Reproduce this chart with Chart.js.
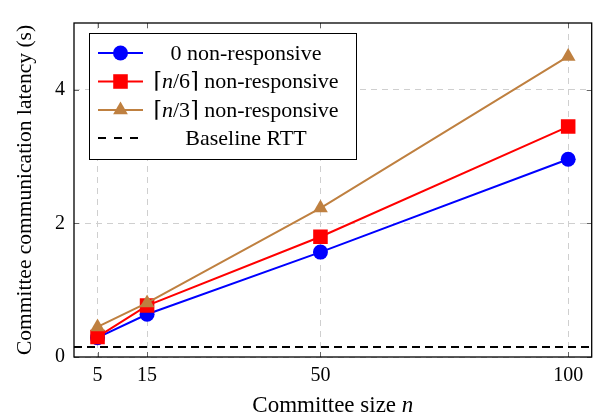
<!DOCTYPE html>
<html>
<head>
<meta charset="utf-8">
<script src="https://cdn.jsdelivr.net/npm/chart.js@4/dist/chart.umd.min.js"></script>
<style>
  html, body { margin: 0; padding: 0; background: #fff; }
  #chart { display: block; }
</style>
</head>
<body>
<canvas id="chart" width="602" height="419"></canvas>
<script>
// committee sizes on the x axis
const COMMITTEE_SIZES = [5, 15, 50, 100];
// latency in seconds
const LAT_ZERO  = [0.29, 0.64, 1.57, 2.96];
const LAT_SIXTH = [0.30, 0.77, 1.80, 3.45];
const LAT_THIRD = [0.45, 0.81, 2.23, 4.50];
const BASELINE_RTT = 0.15;

const X_TICKS = [5, 15, 50, 100];
const Y_TICKS = [0, 2, 4];
const X_MIN = 0.25, X_MAX = 104.75;
const Y_MIN = 0, Y_MAX = 5;

const SERIES_LABELS = ['0 non-responsive', '⌈n/6⌉ non-responsive', '⌈n/3⌉ non-responsive', 'Baseline RTT'];
const X_TITLE = 'Committee size n';
const Y_TITLE = 'Committee communication latency (s)';

const FONT = '"Liberation Serif", "DejaVu Serif", serif';
const BLUE = '#0000ff', RED = '#ff0000', BROWN = '#bf8040';

function pts(ys){ return COMMITTEE_SIZES.map((x,i)=>({x, y: ys[i]})) }

// draw text, putting a stand-alone "n" in italics
function richText(ctx, text, x, y, size, align){
  const parts = text.split(/(?<![A-Za-z])(n)(?![A-Za-z])/);
  const reg = `${size}px ${FONT}`, ita = `italic ${size}px ${FONT}`;
  let w = 0;
  parts.forEach((p,i)=>{ ctx.font = (i%2) ? ita : reg; w += ctx.measureText(p).width; });
  let cx = align === 'center' ? x - w/2 : x;
  ctx.textAlign = 'left';
  parts.forEach((p,i)=>{
    ctx.font = (i%2) ? ita : reg;
    ctx.fillText(p, cx, y);
    cx += ctx.measureText(p).width;
  });
}

const styles = [
  {color: BLUE, point: 'circle', r: 7.5},
  {color: RED, point: 'rect', r: 10.3},
  {color: BROWN, point: 'triangle', r: 8.5},
];

const decor = {
  id: 'decor',
  afterDraw(chart){
    const {ctx, chartArea: a, scales: {x, y}} = chart;
    ctx.save();
    // inner tick marks
    ctx.strokeStyle = '#666'; ctx.lineWidth = 1;
    ctx.beginPath();
    X_TICKS.forEach(v=>{
      const px = Math.round(x.getPixelForValue(v)) + 0.5;
      ctx.moveTo(px, a.bottom); ctx.lineTo(px, a.bottom - 5);
      ctx.moveTo(px, a.top); ctx.lineTo(px, a.top + 5);
    });
    Y_TICKS.forEach(v=>{
      const py = Math.round(y.getPixelForValue(v)) + 0.5;
      ctx.moveTo(a.left, py); ctx.lineTo(a.left + 5, py);
      ctx.moveTo(a.right, py); ctx.lineTo(a.right - 5, py);
    });
    ctx.stroke();
    // frame
    ctx.strokeStyle = '#000'; ctx.lineWidth = 1.3;
    ctx.strokeRect(a.left, a.top, a.right - a.left, a.bottom - a.top);

    // x title
    ctx.fillStyle = '#000'; ctx.textBaseline = 'alphabetic';
    richText(ctx, X_TITLE, (a.left + a.right)/2, 412, 23, 'center');

    // legend
    const lx = 89, ly = 33, lw = 267, lh = 126;
    ctx.fillStyle = '#fff';
    ctx.fillRect(lx, ly, lw, lh);
    ctx.strokeStyle = '#000'; ctx.lineWidth = 1;
    ctx.strokeRect(lx + 0.5, ly + 0.5, lw, lh);
    const rows = [53, 81.5, 110, 138];
    rows.forEach((ry, i)=>{
      ctx.save();
      if (i < 3){
        const s = styles[i];
        ctx.strokeStyle = s.color; ctx.lineWidth = 2;
        ctx.beginPath(); ctx.moveTo(98, ry); ctx.lineTo(143, ry); ctx.stroke();
        ctx.fillStyle = s.color;
        Chart.helpers.drawPoint(ctx, {pointStyle: s.point, radius: s.r, borderWidth: 0}, 120.5, ry);
      } else {
        ctx.strokeStyle = '#000'; ctx.lineWidth = 2; ctx.setLineDash([8, 8]);
        ctx.beginPath(); ctx.moveTo(98, ry); ctx.lineTo(140, ry); ctx.stroke();
      }
      ctx.restore();
      ctx.fillStyle = '#000'; ctx.textBaseline = 'middle';
      richText(ctx, SERIES_LABELS[i], 246, ry + 1, 22, 'center');
    });
    ctx.restore();
  }
};

const series = [LAT_ZERO, LAT_SIXTH, LAT_THIRD].map((ys, i)=>({
  label: SERIES_LABELS[i],
  data: pts(ys),
  borderColor: styles[i].color,
  backgroundColor: styles[i].color,
  borderWidth: 2,
  pointStyle: styles[i].point,
  pointRadius: styles[i].r,
  pointBorderWidth: 0,
  order: 3 - i
}));

series.unshift({
  label: SERIES_LABELS[3],
  data: [{x: X_MIN, y: BASELINE_RTT}, {x: X_MAX, y: BASELINE_RTT}],
  borderColor: '#000',
  borderWidth: 2,
  borderDash: [8, 5],
  pointRadius: 0,
  order: 10
});

new Chart(document.getElementById('chart'), {
  type: 'line',
  data: { datasets: series },
  options: {
    responsive: false,
    animation: false,
    devicePixelRatio: 1,
    layout: { padding: { left: 0, right: 9, top: 23, bottom: 0 } },
    plugins: { legend: { display: false }, tooltip: { enabled: false } },
    scales: {
      x: {
        type: 'linear', min: X_MIN, max: X_MAX,
        afterBuildTicks: s => { s.ticks = X_TICKS.map(v=>({value: v})) },
        afterFit: s => { s.height = 62 },
        grid: { color: '#cfcfcf', lineWidth: 1, drawTicks: false },
        border: { display: false, dash: [6, 5] },
        ticks: { color: '#000', padding: 7, font: { family: FONT, size: 20 } }
      },
      y: {
        type: 'linear', min: Y_MIN, max: Y_MAX,
        afterBuildTicks: s => { s.ticks = Y_TICKS.map(v=>({value: v})) },
        afterFit: s => { s.width = 74 },
        grid: { color: '#cfcfcf', lineWidth: 1, drawTicks: false },
        border: { display: false, dash: [6, 5] },
        ticks: { color: '#000', padding: 9, font: { family: FONT, size: 20 } },
        title: { display: true, text: Y_TITLE, color: '#000', padding: { top: 12, bottom: 0 }, font: { family: FONT, size: 21.5 } }
      }
    }
  },
  plugins: [decor]
});
</script>
</body>
</html>
